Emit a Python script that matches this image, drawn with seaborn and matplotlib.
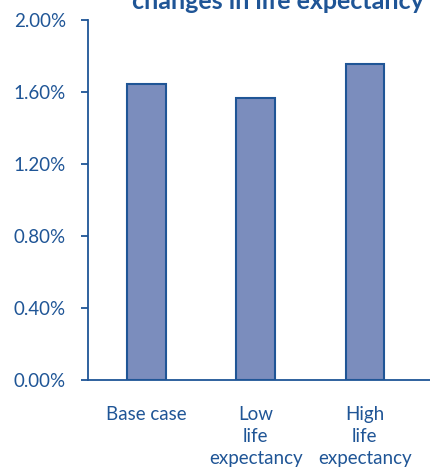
import matplotlib
matplotlib.use("Agg")
import matplotlib.pyplot as plt
import seaborn as sns
import pandas as pd
from matplotlib.ticker import FuncFormatter

# Scenario results
categories = ["Base case", "Low\nlife\nexpectancy", "High\nlife\nexpectancy"]
values = [1.644, 1.567, 1.756]  # percent
yticks = [0.0, 0.4, 0.8, 1.2, 1.6, 2.0]
title = "changes in life expectancy"

navy = "#1f5596"
fill = "#7b8dbd"

sns.set_theme(style="white")
plt.rcParams["font.family"] = ["Lato", "DejaVu Sans"]

df = pd.DataFrame({"scenario": categories, "value": values})

fig = plt.figure(figsize=(4.3, 4.7), dpi=100)
ax = fig.add_axes([88 / 430, 1 - 380 / 470, 1 - 88 / 430, 360 / 470])

sns.barplot(data=df, x="scenario", y="value", ax=ax, color=fill,
            width=0.35, edgecolor=navy, linewidth=1.5, saturation=1)

ax.set_ylim(0, 2.0)
ax.set_xlim(-0.537, 2.6)
ax.set_yticks(yticks)
ax.yaxis.set_major_formatter(FuncFormatter(lambda v, _: f"{v:.2f}%"))
ax.set_xlabel("")
ax.set_ylabel("")

for s in ["top", "right"]:
    ax.spines[s].set_visible(False)
for s in ["left", "bottom"]:
    ax.spines[s].set_color(navy)
    ax.spines[s].set_linewidth(1.3)

ax.tick_params(axis="y", left=True, length=5, width=1.3, color=navy,
               labelcolor=navy, labelsize=13.5, pad=11)
ax.tick_params(axis="x", bottom=False, labelcolor=navy, labelsize=13.5, pad=13)
for lbl in ax.get_xticklabels():
    lbl.set_linespacing(1.36)
    lbl.set_verticalalignment("top")

fig.text(0.647, 1 - 9 / 470, title, ha="center", va="baseline",
         fontsize=18, fontweight="bold", color=navy)

fig.savefig("out.png", dpi=100)
